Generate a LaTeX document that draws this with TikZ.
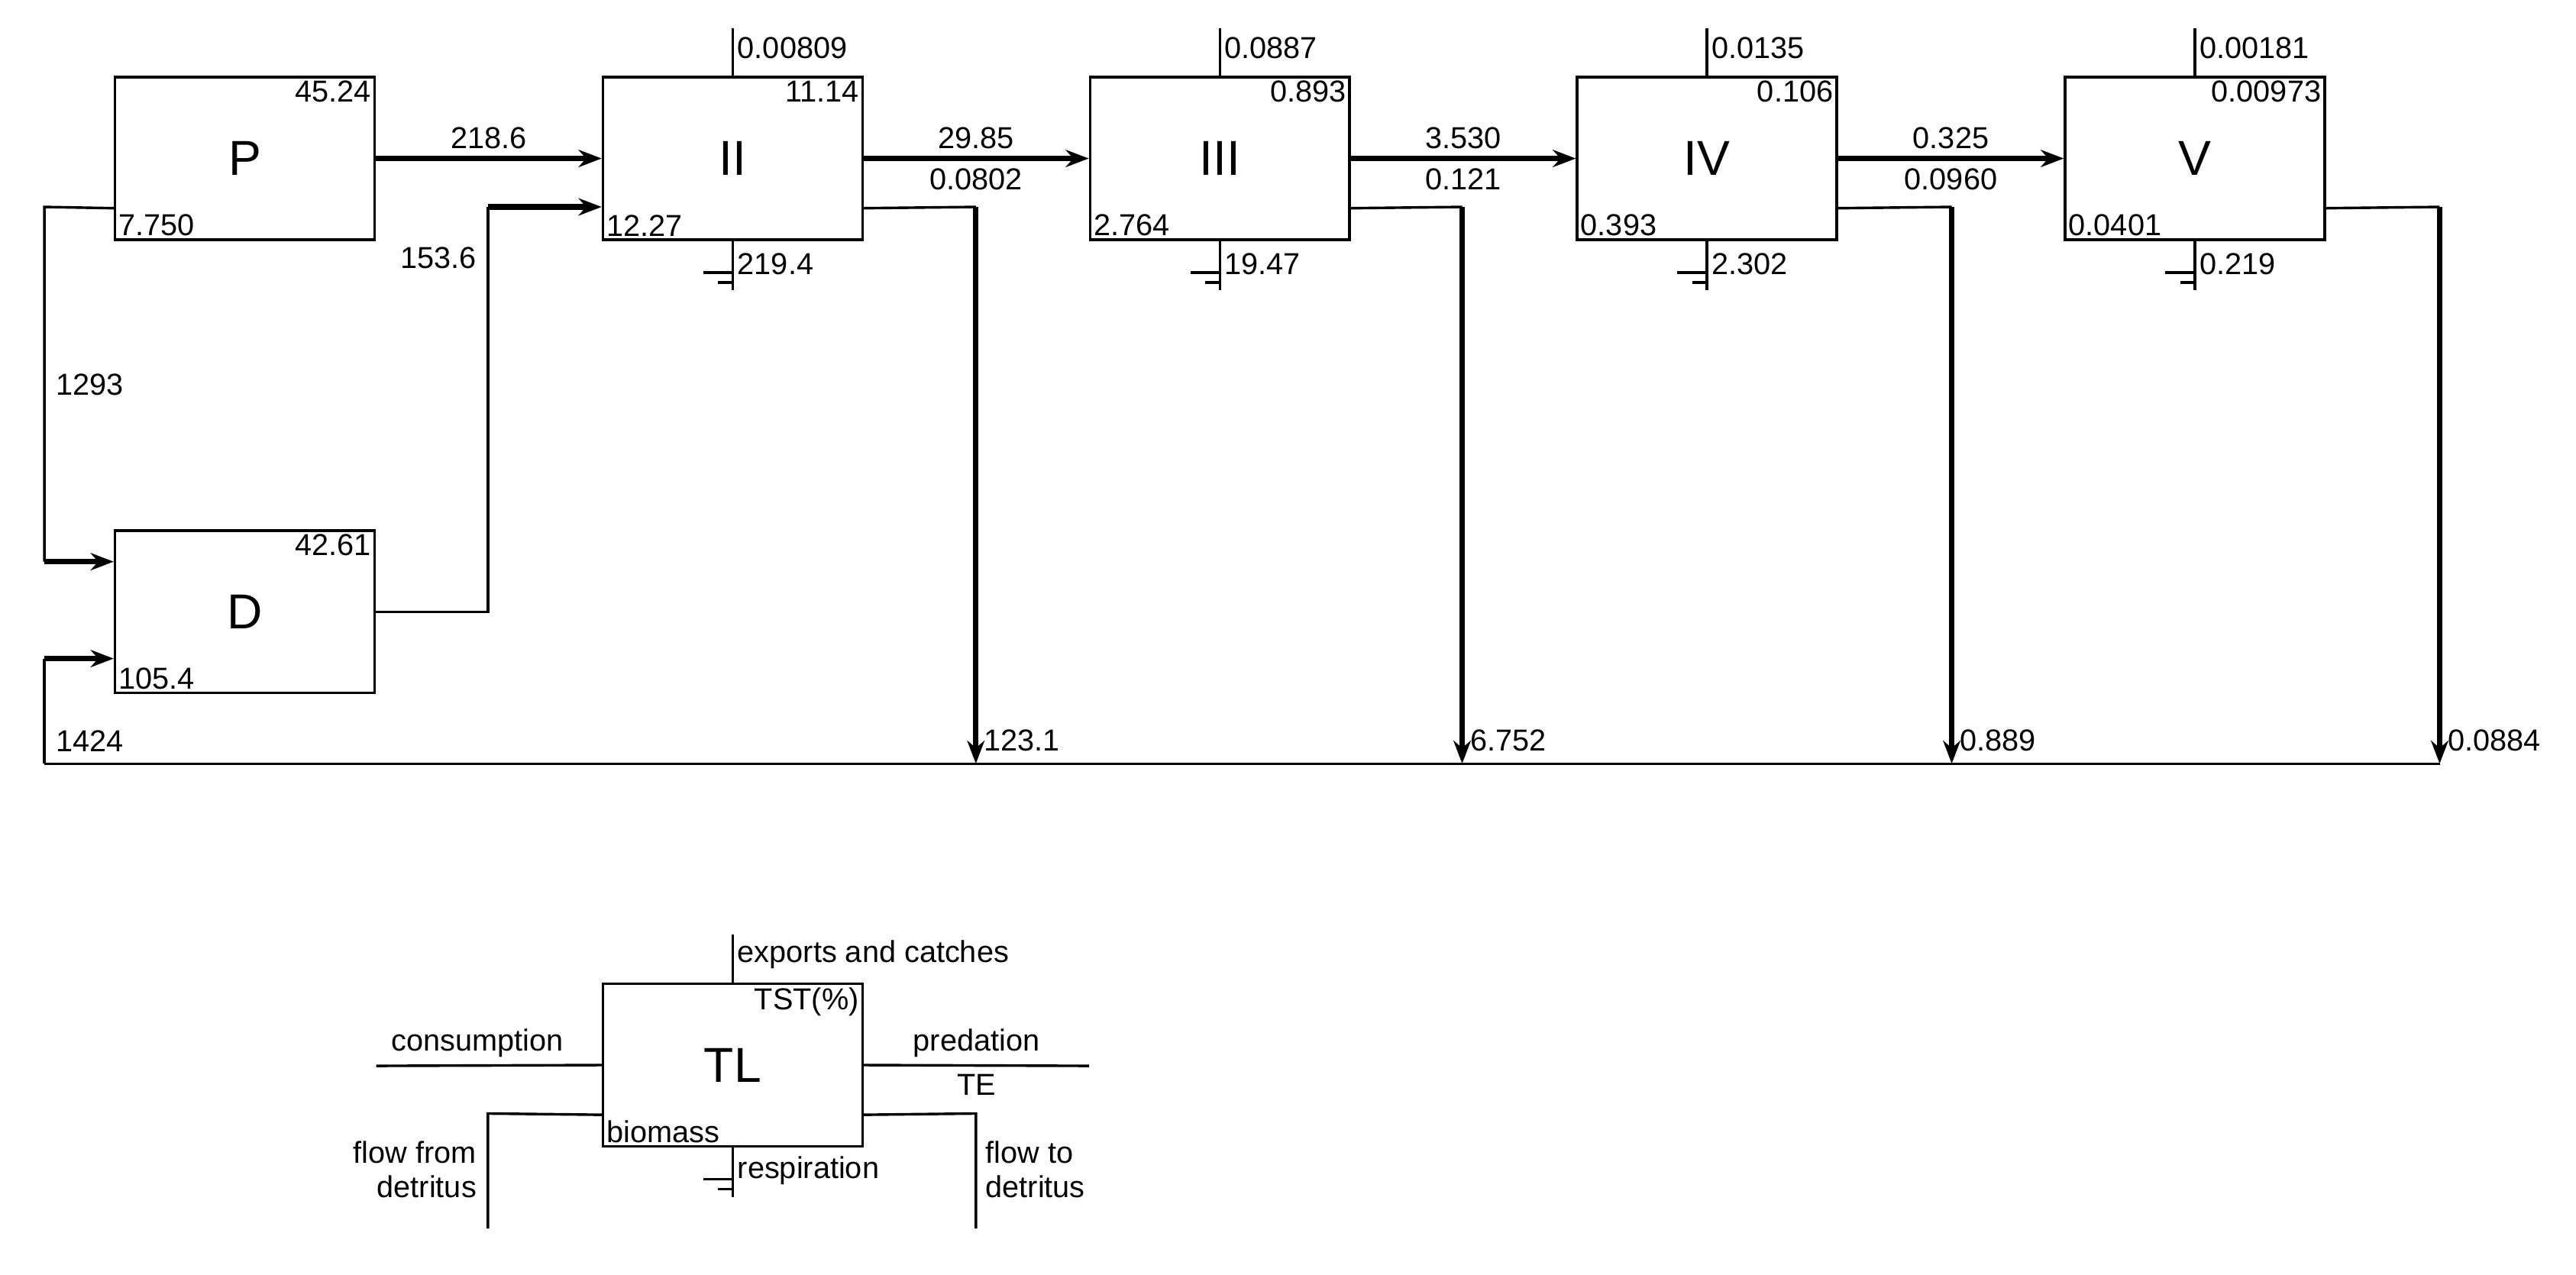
\documentclass[tikz,border=0pt]{standalone}
\usepackage{fontspec}
\setmainfont{Liberation Sans}
\usetikzlibrary{arrows.meta,calc}
\begin{document}
\begin{tikzpicture}[x=0.02cm,y=-0.02cm,
  box/.style={draw,line width=0.9pt,minimum width=3.16cm,minimum height=1.98cm,inner sep=0pt,font=\fontsize{17}{17}\selectfont},
  thin/.style={line width=0.9pt},
  flow/.style={line width=1.9pt,-{Stealth[length=8pt,width=6pt]}},
  num/.style={font=\fontsize{10.5}{11}\selectfont,inner sep=1.5pt},
  lab/.style={font=\fontsize{10.5}{12}\selectfont,inner sep=1.5pt,align=right}]
\useasboundingbox (0,0) rectangle (1568,776);
\newcommand\gnd[2]{\draw[thin] (#1,#2) -- ++(-18,0) (#1,#2) ++(0,6) -- ++(-9,0);}
\newcommand\tlbox[7]{%
  \node[box] (#1) at (#2,96.5) {#3};
  \draw[thin] (#1.north) -- ++(0,-29) coordinate (#1ex);
  \node[num,anchor=west] at ($(#1ex)+(0,12)$) {#4};
  \node[num,anchor=north east] at (#1.north east) {#5};
  \node[num,anchor=south west] at (#1.south west) {#6};
  \draw[thin] (#1.south) -- ++(0,30) coordinate (#1rs);
  \gnd{#2}{166}
  \node[num,anchor=west] at ($(#1rs)+(0,-16)$) {#7};
}
\node[box] (P) at (149,96.5) {P};
\node[num,anchor=north east] at (P.north east) {45.24};
\node[num,anchor=south west] at (P.south west) {7.750};
\node[box] (D) at (149,372.5) {D};
\node[num,anchor=north east] at (D.north east) {42.61};
\node[num,anchor=south west] at (D.south west) {105.4};
\tlbox{II}{446}{II}{0.00809}{11.14}{12.27}{219.4}
\tlbox{III}{742.5}{III}{0.0887}{0.893}{2.764}{19.47}
\tlbox{IV}{1039}{IV}{0.0135}{0.106}{0.393}{2.302}
\tlbox{V}{1336}{V}{0.00181}{0.00973}{0.0401}{0.219}
% predation flows
\draw[flow] (P.east) -- (II.west) node[num,midway,above=1pt] {218.6};
\draw[flow] (II.east) -- (III.west) node[num,midway,above=1pt] {29.85} node[num,midway,below=1pt] {0.0802};
\draw[flow] (III.east) -- (IV.west) node[num,midway,above=1pt] {3.530} node[num,midway,below=1pt] {0.121};
\draw[flow] (IV.east) -- (V.west) node[num,midway,above=1pt] {0.325} node[num,midway,below=1pt] {0.0960};
% detritus flows
\coordinate (bl) at (27,465);
\coordinate (dl) at (297,126);
\draw[thin] ($(P.south west)+(0,-20)$) -- (27,126) -- (27,342);
\draw[flow] (27,342) -- (D.west |- 0,342);
\node[num,anchor=west] at (31,234) {1293};
\draw[thin] (D.east) -- (297,372.5) -- (dl);
\draw[flow] (dl) -- (II.west |- dl);
\node[num,anchor=east] at (293,157) {153.6};
\draw[thin] (bl) -- (1485,465);
\draw[thin] (bl) -- (27,401);
\draw[flow] (27,401) -- (D.west |- 0,401);
\node[num,anchor=west] at (31,451) {1424};
\foreach \b/\x/\v in {II/594/123.1,III/890/6.752,IV/1188/0.889,V/1485/0.0884}{
  \draw[thin] ($(\b.south east)+(0,-20)$) -- (\x,126);
  \draw[flow] (\x,126) -- (\x,465);
  \node[num,anchor=west] at (\x+2,451) {\v};
}
% legend
\node[box] (TL) at (446,648.5) {TL};
\draw[thin] (TL.north) -- ++(0,-29) coordinate (TLex);
\node[lab,anchor=west] at ($(TLex)+(0,12)$) {exports and catches};
\node[lab,anchor=north east] at (TL.north east) {TST(\%)};
\node[lab,anchor=south west] at (TL.south west) {biomass};
\draw[thin] (TL.south) -- ++(0,30) coordinate (TLrs);
\gnd{446}{718}
\node[lab,anchor=west] at ($(TLrs)+(0,-16)$) {respiration};
\coordinate (cons) at (229,649);
\draw[thin] (cons) -- (TL.west) node[lab,pos=0.45,above=1pt] {consumption};
\coordinate (pred) at (663,649);
\draw[thin] (TL.east) -- (pred) node[lab,midway,above=1pt] {predation} node[lab,midway,below=1pt] {TE};
\coordinate (ffd) at (297,748);
\draw[thin] ($(TL.south west)+(0,-20)$) -- (297,678) -- (ffd);
\node[lab,anchor=east] at (293,712) {flow from\\detritus};
\coordinate (ftd) at (594,748);
\draw[thin] ($(TL.south east)+(0,-20)$) -- (594,678) -- (ftd);
\node[lab,anchor=west,align=left] at (597,712) {flow to\\detritus};
\end{tikzpicture}
\end{document}
